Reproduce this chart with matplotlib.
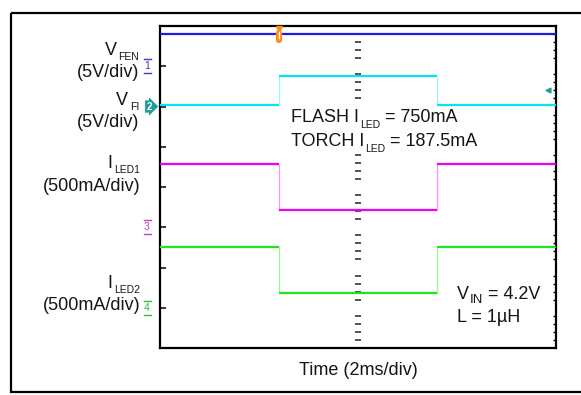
import matplotlib
matplotlib.use("Agg")
import matplotlib.pyplot as plt
import numpy as np
from matplotlib.patches import Rectangle
from matplotlib.transforms import Affine2D, blended_transform_factory
from matplotlib.ticker import FixedLocator

plt.rcParams['font.family'] = ['Liberation Sans', 'DejaVu Sans']

# ---- scope capture values ----
time_edges_ms = [0.0, 6.0, 14.0, 20.0]      # 2 ms/div, 10 divisions
vfen_v = [4.0, 4.0, 4.0]                    # V_FEN (V)
vfi_v = [0.2, 3.8, 0.2]                     # V_FI (V)
iled1_ma = [750.0, 187.5, 750.0]            # I_LED1 (mA)
iled2_ma = [750.0, 187.5, 750.0]            # I_LED2 (mA)

channel_names = ["1", "2", "3", "4"]
volts_per_div = 5.0
ma_per_div = 500.0

W, H = 581, 395
TXT = "#151515"

fig = plt.figure(figsize=(W / 100, H / 100), dpi=100)
fig.patch.set_facecolor("white")
# image-pixel coordinates (origin top-left)
px = Affine2D().scale(1, -1).translate(0, H)

L, R, T, B = 160, 556, 26, 348
ax = fig.add_axes([L / W, (H - B) / H, (R - L) / W, (B - T) / H])
ax.set_xlim(0, 20)
ax.set_ylim(0, 8)
for s in ax.spines.values():
    s.set_linewidth(1.6)
    s.set_color("black")

# graticule ticks: majors on the left, minors on the right
ax.yaxis.set_major_locator(FixedLocator(range(1, 8)))
ax.yaxis.set_minor_locator(FixedLocator([k + j / 5 for k in range(8) for j in range(1, 5)]))
ax.tick_params(axis="y", which="major", direction="in", left=True, right=False,
               length=4.5, width=1.1, labelleft=False)
ax.tick_params(axis="y", which="minor", direction="in", left=False, right=True,
               length=2.3, width=1.0)
ax.tick_params(axis="x", which="both", bottom=False, top=False, labelbottom=False)

# centre graticule column
ys_minor = [k + j / 5 for k in range(8) for j in range(1, 5)]
ax.plot(np.full(len(ys_minor), 10.0), ys_minor, ls="none", marker="_",
        ms=3.8, mew=1.1, color="#222222", zorder=3)

# ---- traces ----
channels = [
    (vfen_v, volts_per_div, 7.0, "#1c1ce6", None),
    (vfi_v, volts_per_div, 6.0, "#00e6f2", "#9ff5fa"),
    (iled1_ma, ma_per_div, 3.06, "#f000f0", "#ff90ff"),
    (iled2_ma, ma_per_div, 1.0, "#1ee61e", "#9af59a"),
]
for vals, scale, off, col, edge_col in channels:
    lv = [off + v / scale for v in vals]
    for i, y in enumerate(lv):
        ax.plot([time_edges_ms[i], time_edges_ms[i + 1]], [y, y],
                color=col, lw=1.6, solid_capstyle="butt", zorder=4)
    if edge_col is not None:
        for i in range(1, len(lv)):
            ax.plot([time_edges_ms[i], time_edges_ms[i]], [lv[i - 1], lv[i]],
                    color=edge_col, lw=0.9, zorder=3)

# trigger marker
trig = blended_transform_factory(ax.transData, px)
ax.plot([time_edges_ms[1]], [28.5], marker="v", ms=5, color="#ff8c1a",
        transform=trig, clip_on=False, zorder=6)
ax.plot([time_edges_ms[1], time_edges_ms[1]], [33, 40], color="#ff8c1a", lw=4.5,
        solid_capstyle="round", transform=trig, clip_on=False, zorder=6)
ax.plot([time_edges_ms[1], time_edges_ms[1]], [32, 37.5], color="white", lw=1.0,
        transform=trig, clip_on=False, zorder=7)

# channel ground markers at the left edge
gnd = blended_transform_factory(px, ax.transData)
marker_cols = ["#3b3bc4", "#1f9e9a", "#c040c0", "#2cc02c"]
offsets = [7.0, 6.0, 3.0, 1.0]
for name, col, off in zip(channel_names, marker_cols, offsets):
    if name == "2":
        ax.text(149, off, name, transform=gnd, fontsize=7, color="white",
                fontweight="bold", ha="center", va="center", clip_on=False,
                bbox=dict(boxstyle="rarrow,pad=0.12", fc=col, ec="none"))
    else:
        ax.text(147, off, name, transform=gnd, fontsize=7.5, color=col,
                ha="center", va="center", clip_on=False)
        for dy in (-0.17, 0.17):
            ax.plot([143.5, 150.5], [off + dy, off + dy], color=col, lw=1.0,
                    transform=gnd, clip_on=False)

# right-edge reference marker
ax.plot([548], [6.4], marker="<", ms=3.5, color="#1f9e9a",
        transform=blended_transform_factory(px, ax.transData), clip_on=False)

# ---- text ----
renderer = fig.canvas.get_renderer()

# blank area behind the current settings annotation
fig.add_artist(Rectangle((287, 108), 200, 46, transform=px, fc="white",
                         ec="none", zorder=2))


def runs(x, y, pieces, ha="left"):
    """Lay out text pieces (string, size, drop_px, gap_px) along a baseline."""
    objs = []
    total = 0.0
    for s, size, drop, gap in pieces:
        t = fig.text(0, 0, s, fontsize=size, color=TXT, transform=px,
                     ha="left", va="baseline", zorder=4)
        w = t.get_window_extent(renderer).width
        objs.append((t, drop, gap, w))
        total += w + gap
    cur = x if ha == "left" else (x - total if ha == "right" else x - total / 2)
    for t, drop, gap, w in objs:
        cur += gap
        t.set_position((cur, y + drop))
        cur += w


MAIN, SUB = 13, 7.5
runs(139, 55, [("V", MAIN, 0, 0), ("FEN", SUB, 5, 1.5)], ha="right")
runs(139, 77, [("(5V/div)", MAIN, 0, 0)], ha="right")
runs(139, 105, [("V", MAIN, 0, 0), ("FI", SUB, 5, 1.5)], ha="right")
runs(139, 127, [("(5V/div)", MAIN, 0, 0)], ha="right")
runs(140, 168, [("I", MAIN, 0, 0), ("LED1", SUB, 5, 1.5)], ha="right")
runs(140, 191, [("(500mA/div)", MAIN, 0, 0)], ha="right")
runs(140, 288, [("I", MAIN, 0, 0), ("LED2", SUB, 5, 1.5)], ha="right")
runs(140, 310, [("(500mA/div)", MAIN, 0, 0)], ha="right")

runs(291, 122.5, [("FLASH I", MAIN, 0, 0), ("LED", SUB, 5.5, 1),
                  ("= 750mA", MAIN, 0, 5)])
runs(291, 146, [("TORCH I", MAIN, 0, 0), ("LED", SUB, 5.5, 1),
                ("= 187.5mA", MAIN, 0, 5)])
runs(457, 299, [("V", MAIN, 0, 0), ("IN", 9.5, 4, 0.5), ("= 4.2V", MAIN, 0, 5)])
runs(457, 322.5, [("L = 1µH", MAIN, 0, 0)])
runs(358, 375, [("Time (2ms/div)", MAIN, 0, 0)], ha="center")

# outer frame (open on the right)
fig.add_artist(Rectangle((11, 13), 640, 379, transform=px, fill=False,
                         lw=1.6, ec="black"))

fig.savefig("out.png", dpi=100, facecolor="white")
